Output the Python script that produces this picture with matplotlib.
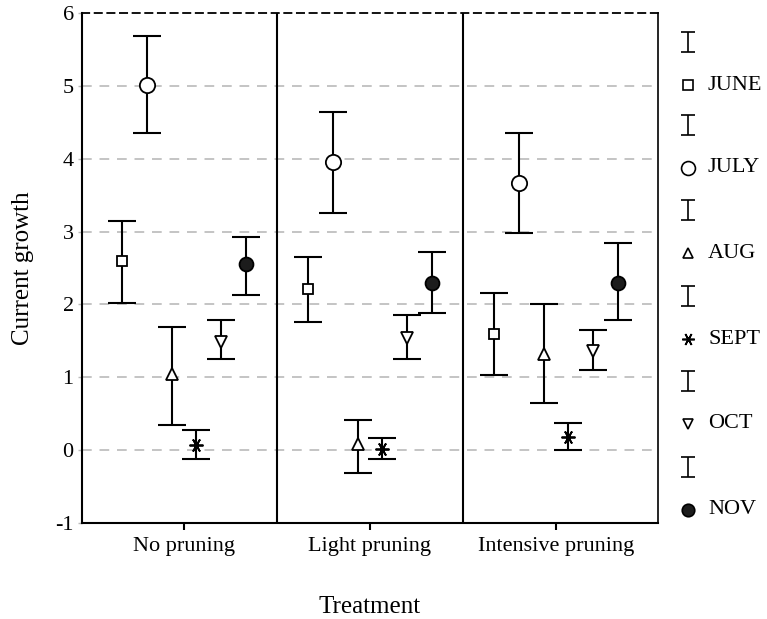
"""Current growth by treatment and month, mean with error bars."""

import numpy as np
import matplotlib
matplotlib.use("Agg")
import matplotlib.pyplot as plt

plt.rcParams['font.family'] = ['Liberation Serif', 'DejaVu Serif']

# =============================================================================
# Data
treatments = ["No pruning", "Light pruning", "Intensive pruning"]
months = ["JUNE", "JULY", "AUG", "SEPT", "OCT", "NOV"]

# mean, upper and lower end of the error bar, one row per month
june_mean = [2.59, 2.21, 1.60]
june_hi = [3.15, 2.65, 2.16]
june_lo = [2.02, 1.76, 1.03]

july_mean = [5.01, 3.95, 3.66]
july_hi = [5.69, 4.64, 4.35]
july_lo = [4.35, 3.26, 2.98]

aug_mean = [1.05, 0.08, 1.32]
aug_hi = [1.69, 0.42, 2.00]
aug_lo = [0.34, -0.31, 0.65]

sept_mean = [0.07, 0.02, 0.18]
sept_hi = [0.28, 0.16, 0.37]
sept_lo = [-0.12, -0.12, 0.00]

oct_mean = [1.48, 1.54, 1.36]
oct_hi = [1.79, 1.86, 1.65]
oct_lo = [1.25, 1.25, 1.10]

nov_mean = [2.55, 2.30, 2.30]
nov_hi = [2.93, 2.72, 2.85]
nov_lo = [2.13, 1.88, 1.79]

means = [june_mean, july_mean, aug_mean, sept_mean, oct_mean, nov_mean]
highs = [june_hi, july_hi, aug_hi, sept_hi, oct_hi, nov_hi]
lows = [june_lo, july_lo, aug_lo, sept_lo, oct_lo, nov_lo]

# marker styles per month (style, size, face colour)
star = (6, 2, 30)
styles = [("s", 7, "white"), ("o", 11, "white"), ("^", 8, "white"),
          (star, 10, "black"), ("v", 8, "white"), ("o", 10, "#1c1c1c")]
leg_styles = [("s", 7, "white"), ("o", 10, "white"), ("^", 7, "white"),
              (star, 9, "black"), ("v", 7, "white"), ("o", 9, "#1c1c1c")]

# =============================================================================
fig = plt.figure(figsize=(7.67, 6.19), dpi=100)
ax = fig.add_axes([82 / 767, 96 / 619, 576 / 767, 510 / 619])

x = np.arange(len(treatments))
step = 0.133
for i, month in enumerate(months):
    xpos = x + (i - 2.5) * step
    m = np.array(means[i])
    yerr = [m - np.array(lows[i]), np.array(highs[i]) - m]
    mk, ms, fc = styles[i]
    ax.errorbar(xpos, m, yerr=yerr, fmt="none", ecolor="black",
                elinewidth=1.5, capsize=10, capthick=1.5, zorder=3)
    ax.plot(xpos, m, linestyle="none", marker=mk, markersize=ms,
            markerfacecolor=fc, markeredgecolor="black",
            markeredgewidth=1.3, zorder=4)

# panel dividers
for xd in [0.5, 1.5]:
    ax.axvline(xd, color="black", lw=1.5, zorder=2)

ax.set_xlim(-0.548, 2.548)
ax.set_ylim(-1, 6)
ax.set_yticks(range(-1, 7))
ax.set_yticklabels([str(v) for v in range(-1, 7)])
ax.set_xticks(x)
ax.set_xticklabels(treatments)

for yv in range(0, 6):
    ax.axhline(yv, color="#c4c4c4", lw=1.4, dashes=(5, 4), zorder=1)

for side in ["left", "bottom", "right"]:
    ax.spines[side].set_linewidth(1.5)
ax.spines["right"].set_linewidth(1.2)
ax.spines["top"].set_linestyle((0, (4, 3)))
ax.spines["top"].set_linewidth(1.3)

ax.tick_params(axis="y", direction="out", length=3, width=1, pad=3,
               labelsize=16, color="#bbbbbb")
ax.tick_params(axis="x", direction="out", length=5, width=1.5, pad=5,
               labelsize=16)

ax.set_xlabel("Treatment", fontsize=18, labelpad=29)
ax.set_ylabel("Current growth", fontsize=18, labelpad=15)

# legend, drawn in pixel coordinates on an overlay axes
leg = fig.add_axes([0, 0, 1, 1])
leg.set_xlim(0, 767)
leg.set_ylim(619, 0)
leg.axis("off")
row_y = [85, 168, 253, 339, 424, 510]
for i, month in enumerate(months):
    yr = row_y[i]
    leg.errorbar([688], [yr - 43], yerr=[[10], [10]], fmt="none",
                 ecolor="black", elinewidth=1.2, capsize=5, capthick=1.2)
    mk, ms, fc = leg_styles[i]
    leg.plot([688], [yr], linestyle="none", marker=mk, markersize=ms,
             markerfacecolor=fc, markeredgecolor="black",
             markeredgewidth=1.2)
    leg.text(708, yr, month, fontsize=16, va="center", ha="left")

fig.savefig("out.png", dpi=100)
